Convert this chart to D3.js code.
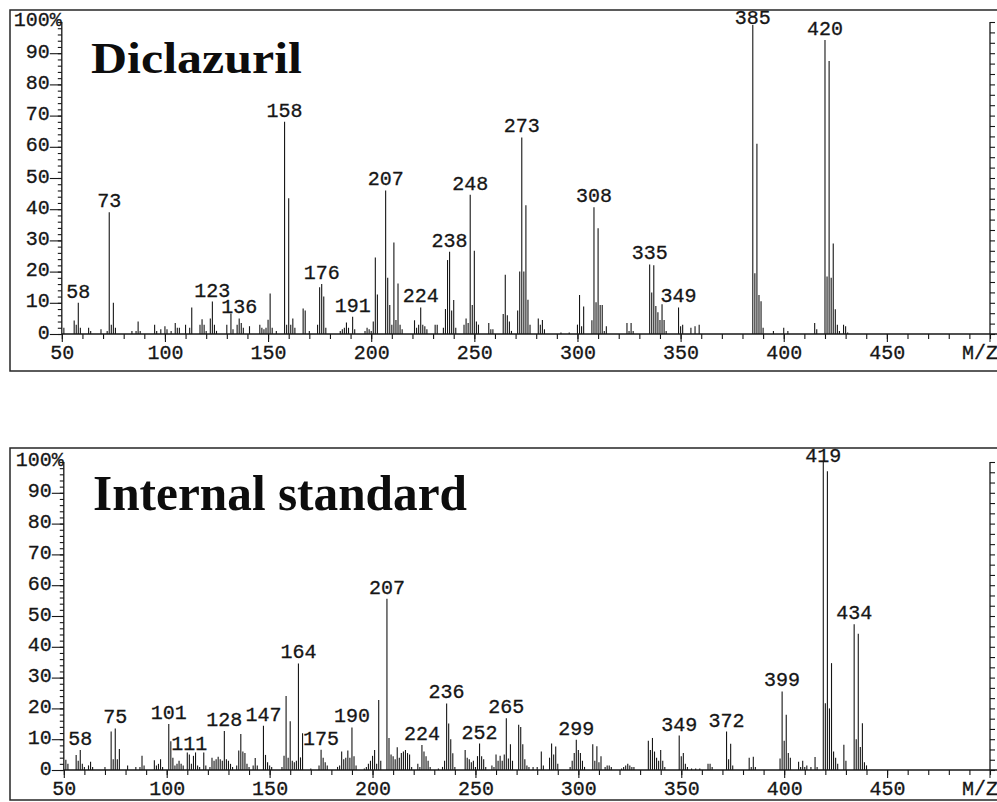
<!DOCTYPE html>
<html>
<head>
<meta charset="utf-8">
<script src="https://cdn.jsdelivr.net/npm/d3@7"></script>
<style>
  body { margin: 0; background: #fff; }
  svg { display: block; }
  .num { font-family: 'Liberation Mono', 'Courier New', monospace; font-size: 20px; fill: #161616; stroke: #161616; stroke-width: 0.3px; }
</style>
</head>
<body>
<svg id="chart" width="997" height="802"></svg>
<script>
// Diclazuril spectrum, [m/z, relative abundance %]
const dicPeaks = [
  [51,2],[56,4.3],[57,3],[58,10],[59,2],[63,2],[64,1],[69,1.5],[72,1],[73,39],[74,3],[75,10],[76,2],
  [84,1],[86,1],[87,4],[88,1],[95,3],[96,1],[98,1.5],[100,2.5],[101,1.5],[103,1],[105,3.5],[106,2],
  [107,2],[110,3],[112,2],[113,8.5],[117,3],[118,4.7],[119,3],[120,1],[122,5],[123,10.4],[124,3],
  [125,1],[130,3],[132,6.6],[133,1.5],[135,3],[136,5],[137,3.5],[138,2],[141,2.5],[146,3],[147,2],
  [148,1.5],[149,2],[150,4.6],[151,13],[152,2],[154,1],[158,68],[159,3],[160,43.5],[161,3],[162,5],
  [163,2],[167,8.2],[168,7.5],[170,1],[174,3],[175,15],[176,16],[177,12],[178,2],[185,1],[186,1.5],
  [187,2],[188,3.7],[189,2],[191,5.5],[192,1.5],[197,1],[198,2],[199,1.5],[200,1],[201,4],[202,24.5],
  [203,12.7],[207,46],[208,18],[209,9.3],[210,3],[211,29.3],[212,4.5],[213,16.2],[214,3],[215,1.5],
  [221,4.4],[222,2],[223,3],[224,8.5],[225,3],[226,2.5],[227,1.5],[231,3],[232,3],[235,2],[236,8],
  [237,23.7],[238,26.4],[239,7.5],[240,10.9],[241,2],[245,3],[246,5],[247,3.5],[248,44.6],[249,9.3],
  [250,26.7],[251,4],[252,3],[257,3.5],[258,1.5],[259,1.5],[264,6.4],[265,19],[266,6],[267,4],[268,1],
  [271,7.5],[272,20],[273,63],[274,20],[275,41.3],[276,11],[277,3],[281,5],[282,3],[283,4.5],[284,1.5],
  [292,0.5],[296,0.5],[300,3],[301,12.5],[302,2.5],[303,8.8],[307,4.4],[308,40.6],[309,10.2],
  [310,33.9],[311,9.3],[312,9.3],[313,1],[314,2.5],[324,3.5],[325,1],[326,3.5],[327,1],[335,22.3],
  [336,13.3],[337,22],[338,9],[339,7],[340,4.5],[341,9.5],[342,4.5],[343,1],[349,8.5],[350,2.5],
  [351,3],[355,2],[357,2.5],[359,3],[385,99],[386,19.5],[387,61],[388,12.5],[389,10.5],[390,2],
  [395,1],[400,2],[402,1],[415,3.5],[416,1.5],[420,94.2],[421,18.4],[422,87.5],[423,18],[424,29],
  [425,7.9],[426,3],[427,1],[429,3],[430,2.5],[431,0.5]
];
const dicLabels = [58,73,123,136,158,176,191,207,224,238,248,273,308,335,349,385,420];

// Internal standard spectrum
const isPeaks = [
  [51,3.3],[52,2],[56,4.9],[57,3],[58,6.5],[59,2],[60,1],[62,1.5],[63,2.7],[64,1],[70,1],[73,12.5],
  [74,3.5],[75,13.5],[76,3.5],[77,6.8],[81,1.5],[85,1],[87,1],[88,4.6],[89,1.5],[94,3.2],[95,1.5],
  [96,2],[97,3.5],[98,1],[101,14.9],[102,9.3],[103,4],[104,1.5],[105,2],[106,3],[107,2],[108,1.5],
  [110,5.7],[111,5],[112,2],[113,4.6],[114,5.7],[115,1.5],[116,1],[118,5.7],[119,1.5],[121,1],
  [122,4],[123,3],[124,3.5],[125,4.3],[126,3.5],[127,3],[128,12.7],[129,3.5],[130,3],[131,2],[132,1],
  [134,1.5],[135,6.3],[136,11.7],[137,6],[138,5.5],[139,2],[140,1],[142,1.5],[143,3.9],[144,1.5],
  [147,14.4],[148,4.9],[149,2.5],[150,1.5],[151,1],[156,1],[157,4.6],[158,24],[159,4],[160,15.8],
  [161,3],[162,2.5],[163,3],[164,34.6],[165,4.1],[166,11.9],[170,0.5],[174,1.5],[175,6.6],[176,4],
  [177,2.5],[178,1.5],[183,1],[184,1.5],[185,6],[186,3.5],[187,4],[188,6.3],[189,4],[190,13.8],
  [191,4.5],[192,1.5],[196,0.5],[197,1],[198,2],[199,3],[200,4.6],[201,6.5],[202,2],[203,22.7],
  [204,3],[207,55.6],[208,10.4],[209,5],[210,4.5],[211,3.5],[212,7.4],[213,4],[214,5.5],[215,6],
  [216,6.5],[217,5.5],[218,5],[219,1],[222,2],[223,1],[224,8.1],[225,6],[226,4.5],[227,3],[228,1],
  [232,0.5],[234,1],[235,3],[236,21.6],[237,15.1],[238,10],[239,5.4],[240,1],[245,6.5],[246,4],
  [247,3.5],[248,2.5],[249,3],[250,1],[251,4.5],[252,8.6],[253,4.5],[254,3.5],[255,1],[258,1.5],
  [259,1],[260,5],[261,3],[262,4.6],[263,3],[264,5],[265,16.8],[266,3.7],[267,8.4],[268,3],
  [271,14.7],[272,14],[273,8.4],[274,3.5],[275,1.5],[276,1],[278,1],[280,1],[282,6],[283,1.5],
  [286,4],[287,8.6],[288,5],[289,7.6],[290,2],[296,1],[297,3],[298,5.5],[299,9.8],[300,6.5],
  [301,5.5],[302,3],[303,1],[307,8.4],[308,3],[309,7.7],[310,2.5],[311,4.5],[313,1],[314,1.5],
  [315,1.5],[316,1],[321,0.5],[322,1],[323,1.5],[324,2],[325,1.5],[326,1],[327,1],[334,9.5],
  [335,6.5],[336,10.4],[337,6],[338,4],[339,3],[340,6.5],[341,3],[342,1],[349,11.2],[350,4.5],
  [351,5.5],[352,2],[353,1],[355,0.5],[357,0.5],[359,0.5],[363,2],[364,2],[365,1],[372,12.5],
  [373,3.5],[374,8.5],[375,1.5],[383,4],[384,1],[385,4.3],[386,1],[398,3.7],[399,25.5],[400,9.5],
  [401,17.9],[402,5.5],[403,4],[407,2.7],[408,1],[409,3],[410,1],[411,1.5],[413,1],[415,4.2],
  [416,1],[419,100],[420,21.7],[421,97],[422,20],[423,34.7],[424,6],[425,4],[426,2],[429,8.2],
  [430,3],[434,47.3],[435,10],[436,44.2],[437,7.5],[438,15.2],[439,2.5],[440,1.5]
];
const isLabels = [58,75,101,111,128,147,164,175,190,207,224,236,252,265,299,349,372,399,419,434];

const xMajor = [50,100,150,200,250,300,350,400,450,500];
const xMinor = d3.range(50, 501, 10);
const yMajor = [0,10,20,30,40,50,60,70,80,90];
const yMinor = d3.range(0, 101, 2);

const ink = "#161616";

const svg = d3.select("#chart");

function drawPanel(p) {
  const g = svg.append("g");

  g.append("rect")
    .attr("x", p.frame[0]).attr("y", p.frame[1])
    .attr("width", p.frame[2]).attr("height", p.frame[3])
    .attr("fill", "none").attr("stroke", "#262626").attr("stroke-width", 1.5);

  const x = d3.scaleLinear().domain([50, 500]).range([p.x0, p.x1]);
  const y = d3.scaleLinear().domain([0, 100]).range([p.yBase, p.yTop]);

  // x axis, minor ticks every 10 and labelled ticks every 50
  const xMinorAxis = d3.axisBottom(x).tickValues(xMinor).tickSize(5).tickFormat("");
  const xMajorAxis = d3.axisBottom(x).tickValues(xMajor.slice(0, -1)).tickSize(8).tickPadding(3);
  g.append("g").attr("transform", `translate(0,${p.yBase})`).call(xMinorAxis);
  g.append("g").attr("transform", `translate(0,${p.yBase})`).call(xMajorAxis)
    .call(a => a.selectAll("text").attr("class", "num").attr("font-size", null).attr("fill", null));
  g.append("line")
    .attr("x1", x(500)).attr("x2", x(500))
    .attr("y1", p.yBase).attr("y2", p.yBase + 8)
    .attr("stroke", ink);

  // left y axis
  const yMinorAxis = d3.axisLeft(y).tickValues(yMinor).tickSize(4).tickFormat("");
  const yMajorAxis = d3.axisLeft(y).tickValues(yMajor).tickSize(12).tickPadding(0);
  g.append("g").attr("transform", `translate(${p.x0},0)`).call(yMinorAxis);
  g.append("g").attr("transform", `translate(${p.x0},0)`).call(yMajorAxis)
    .call(a => a.selectAll("text").attr("class", "num").attr("font-size", null)
      .attr("fill", null).attr("dy", "0.2em"));
  g.append("text")
    .attr("class", "num")
    .attr("x", p.x0).attr("y", y(100)).attr("dy", "0.2em")
    .attr("text-anchor", "end")
    .text("100%");

  // right axis
  const yRight = d3.axisRight(y).tickValues(d3.range(0, 31).map(i => i * 100 / 30)).tickSize(5).tickFormat("");
  g.append("g").attr("transform", `translate(${p.x1},0)`).call(yRight);

  g.selectAll(".domain").remove();
  g.selectAll(".tick line").attr("stroke", ink).attr("stroke-width", 1.1);

  // axis lines
  g.append("line").attr("x1", p.x0).attr("x2", 1000).attr("y1", p.yBase).attr("y2", p.yBase)
    .attr("stroke", ink).attr("stroke-width", 1.4);
  g.append("line").attr("x1", p.x0).attr("x2", p.x0).attr("y1", y(100)).attr("y2", p.yBase)
    .attr("stroke", ink).attr("stroke-width", 1.3);
  g.append("line").attr("x1", p.x1).attr("x2", p.x1).attr("y1", y(100)).attr("y2", p.yBase)
    .attr("stroke", ink).attr("stroke-width", 1.3);

  g.append("text")
    .attr("class", "num")
    .attr("x", p.x1 - 28).attr("y", p.yBase + 25)
    .text("M/Z");

  // peaks
  g.append("g").selectAll("line")
    .data(p.peaks)
    .join("line")
    .attr("x1", d => x(d[0])).attr("x2", d => x(d[0]))
    .attr("y1", p.yBase).attr("y2", d => y(d[1]))
    .attr("stroke", ink).attr("stroke-width", 1.1);

  // peak labels
  const lookup = new Map(p.peaks);
  g.append("g").selectAll("text")
    .data(p.labels)
    .join("text")
    .attr("class", "num")
    .attr("x", d => x(d))
    .attr("y", d => Math.max(y(lookup.get(d)) - 5, p.frame[1] + 14))
    .attr("text-anchor", "middle")
    .text(d => d);

  // title
  g.append("text")
    .attr("x", p.title.x).attr("y", p.title.y)
    .attr("font-family", "'Liberation Serif', 'Times New Roman', serif")
    .attr("font-weight", "bold")
    .attr("font-size", p.title.size)
    .attr("textLength", p.title.len)
    .attr("lengthAdjust", "spacingAndGlyphs")
    .attr("fill", "#0d0d0d")
    .text(p.title.text);
}

drawPanel({
  frame: [10, 10, 1000, 361],
  x0: 61.8, x1: 990, yBase: 334, yTop: 22,
  peaks: dicPeaks, labels: dicLabels,
  title: { text: "Diclazuril", x: 91, y: 73, size: 44, len: 211 }
});

drawPanel({
  frame: [10, 448, 1000, 352],
  x0: 63.8, x1: 990, yBase: 770, yTop: 462,
  peaks: isPeaks, labels: isLabels,
  title: { text: "Internal standard", x: 93, y: 510, size: 50, len: 374 }
});
</script>
</body>
</html>
